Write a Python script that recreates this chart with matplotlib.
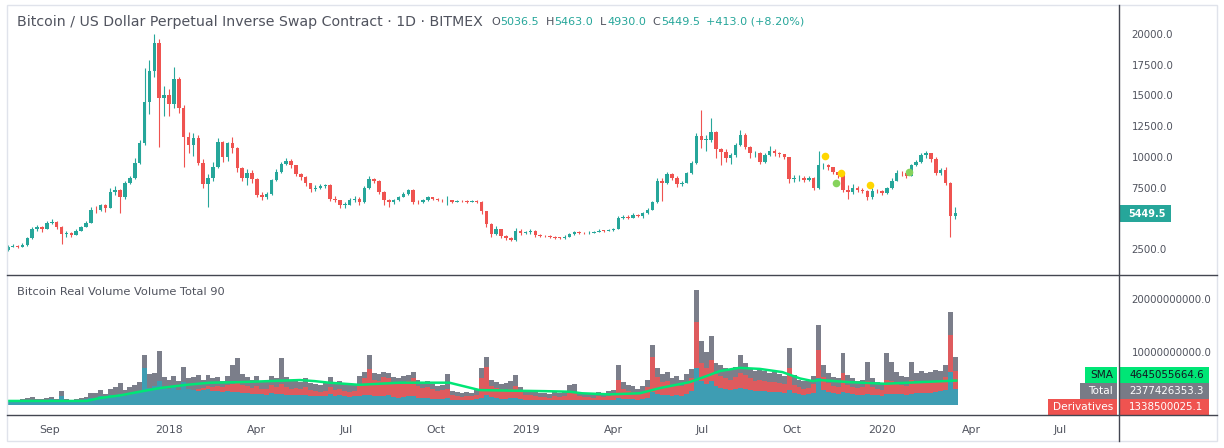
import numpy as np
import pandas as pd
import matplotlib
matplotlib.use('Agg')
import matplotlib.pyplot as plt
import matplotlib.dates as mdates
from matplotlib.lines import Line2D
from matplotlib.patches import Rectangle

W, H = 1224, 448

# XBTUSD, one candle per 5 days starting 2017-07-20 (open of first candle, then close/high/low)
first_open = 2400
close = [
    2700, 2750, 2700, 2800, 3400, 4100, 4300, 4150, 4600, 4700,
    4300, 3700, 3800, 3650, 4000, 4300, 4650, 5700, 5650, 6050,
    5850, 7100, 7300, 6700, 7900, 8250, 9500, 11100, 14500, 17000,
    19300, 14800, 15000, 14300, 16300, 14000, 11600, 11000, 11500, 9500,
    7800, 8300, 9200, 11200, 10000, 11100, 10700, 9100, 8300, 8700,
    8200, 6900, 6750, 6950, 8100, 8800, 9400, 9650, 9300, 8600,
    8350, 7850, 7350, 7500, 7600, 7700, 6550, 6450, 6100, 6100,
    6500, 6600, 6300, 7450, 8200, 8050, 7150, 6450, 6350, 6450,
    6750, 7000, 7300, 6350, 6300, 6450, 6700, 6550, 6500, 6480,
    6500, 6330, 6400, 6380, 6330, 6400, 6350, 5550, 4550, 3700,
    4100, 3550, 3400, 3200, 4000, 3800, 3850, 4000, 3600, 3580,
    3550, 3480, 3420, 3400, 3500, 3700, 3880, 3820, 3800, 3830,
    3880, 4000, 3980, 4050, 4130, 5050, 5100, 5060, 5250, 5200,
    5400, 5700, 6300, 8000, 7850, 8600, 8300, 7750, 7900, 8650,
    9500, 11700, 11400, 11400, 12000, 10600, 10400, 9900, 10150, 10950,
    11800, 10800, 10300, 10350, 9600, 10150, 10500, 10300, 10200, 9950,
    8200, 8250, 8300, 8150, 8300, 7450, 9300, 9300, 9150, 8750,
    8500, 7300, 7150, 7500, 7300, 7250, 6700, 7250, 7200, 7050,
    7450, 8050, 8700, 8650, 8400, 9300, 9600, 10150, 10300, 9800,
    8700, 8900, 7900, 5200, 5450,
]
high = [
    2800, 2900, 2850, 2950, 3500, 4300, 4450, 4400, 4750, 4950,
    4800, 4400, 3950, 3900, 4150, 4400, 4800, 5900, 6000, 6200,
    6150, 7500, 7600, 7350, 8050, 8400, 9900, 11400, 17200, 17900,
    20000, 19600, 15800, 15500, 17300, 16500, 14200, 12000, 11900, 11800,
    9800, 8600, 9600, 11500, 11300, 11200, 11600, 10800, 9200, 9000,
    8900, 8300, 7100, 7100, 8200, 9000, 9600, 9900, 9800, 9350,
    8700, 8400, 7900, 7700, 7800, 7800, 7750, 6800, 6500, 6300,
    6650, 6800, 6700, 7600, 8450, 8300, 8100, 7200, 6550, 6600,
    6850, 7100, 7400, 7350, 6500, 6550, 6800, 6750, 6650, 6600,
    6800, 6500, 6500, 6450, 6450, 6500, 6450, 6400, 5600, 4600,
    4350, 4150, 3650, 3450, 4200, 4100, 3950, 4100, 4050, 3700,
    3650, 3600, 3550, 3500, 3600, 3800, 4000, 3950, 3900, 3950,
    3950, 4100, 4080, 4100, 4200, 5200, 5300, 5250, 5400, 5350,
    5500, 5850, 6400, 8300, 8300, 8750, 8700, 8400, 8050, 8800,
    9700, 11900, 13800, 11800, 13200, 12100, 10700, 10600, 10300, 11100,
    12200, 11900, 10900, 10500, 10400, 10300, 10900, 10600, 10400, 10250,
    10000, 8500, 8500, 8400, 8450, 8350, 10500, 9500, 9400, 9150,
    8800, 8550, 7700, 7800, 7600, 7450, 7300, 7450, 7400, 7300,
    7550, 8300, 8900, 8850, 8700, 9400, 9750, 10300, 10500, 10350,
    9950, 9100, 9200, 7950, 5900,
]
low = [
    2350, 2650, 2600, 2650, 2780, 3350, 4000, 3900, 4100, 4500,
    4150, 2900, 3500, 3500, 3600, 3950, 4250, 4600, 5450, 5600,
    5500, 5800, 6900, 5450, 6600, 7800, 8200, 9400, 11000, 13500,
    16500, 10800, 13300, 13300, 14000, 13600, 9200, 10300, 10100, 9300,
    7500, 5900, 8000, 9100, 9600, 9700, 10300, 8800, 8000, 7700,
    7900, 6700, 6500, 6600, 6900, 8000, 8700, 9300, 9100, 8400,
    8100, 7600, 7150, 7250, 7400, 7500, 6400, 6300, 5850, 5800,
    6050, 6350, 6100, 6250, 7400, 7850, 6950, 6100, 5950, 6200,
    6400, 6700, 6900, 6200, 6150, 6250, 6400, 6450, 6400, 6350,
    6100, 6250, 6300, 6300, 6250, 6300, 6250, 5350, 4300, 3450,
    3600, 3400, 3250, 3120, 3150, 3650, 3700, 3750, 3500, 3500,
    3450, 3400, 3350, 3350, 3350, 3450, 3650, 3700, 3720, 3750,
    3800, 3850, 3900, 3950, 4000, 4100, 4950, 4950, 5050, 5100,
    5050, 5350, 5650, 6250, 6400, 7800, 8100, 7550, 7600, 7850,
    8600, 9400, 10700, 10500, 11200, 9900, 9300, 9600, 9400, 10000,
    10900, 10600, 9900, 10000, 9400, 9500, 10100, 10100, 9950, 9800,
    7900, 7950, 8050, 7950, 8050, 7300, 7400, 9050, 8950, 8600,
    8300, 7100, 6550, 7000, 7100, 7050, 6500, 6600, 7050, 6900,
    7000, 7400, 8000, 8400, 8250, 8400, 9250, 9500, 9900, 9600,
    8500, 8500, 7700, 3500, 4950,
]

# volume per 5-day bucket, in billions USD
vol_total = [
    0.9, 1.0, 0.8, 1.1, 1.3, 1.5, 1.1, 1.2, 1.4, 1.5, 1.2, 2.6, 1.2, 1.0, 1.2, 1.3, 1.5, 2.2,
    2.3, 2.8, 2.0, 3.0, 3.4, 4.1, 2.9, 3.3, 3.8, 4.3,
    9.4, 5.8, 6.0, 10.2, 5.2, 4.8, 5.5, 4.5, 7.2, 5.0,
    5.2, 5.6, 4.8, 5.7, 5.0, 5.3, 4.6, 5.4, 7.5, 8.9,
    5.8, 5.2, 4.8, 5.5, 4.6, 4.4, 5.4, 5.0, 8.9, 5.2, 4.5, 4.8, 4.4, 5.0, 4.2, 4.0, 3.8, 4.1, 5.2, 4.3, 4.6, 4.2, 3.9, 4.0,
    5.4, 6.2, 9.4, 6.0, 5.8, 6.2, 6.0, 5.2, 5.0, 5.5, 5.7, 6.2, 4.8, 4.2, 4.5, 3.9, 3.6, 3.8, 5.8, 2.6, 2.4, 2.2, 2.5, 2.3, 2.8,
    7.0, 9.0, 4.8, 4.4, 4.0, 4.2, 4.5, 5.7, 3.4,
    2.6, 2.8, 2.5, 2.2, 2.3, 2.1, 2.4, 2.2, 2.5, 3.8, 4.0, 2.4, 2.2, 2.3, 2.1, 2.4, 2.3, 2.6, 2.8,
    7.5, 4.4, 3.8, 3.5, 3.0, 3.6, 4.8, 11.3, 7.0, 5.8, 6.2, 5.0, 5.4, 4.8, 5.8, 6.8,
    21.7, 12.0, 10.0, 13.0, 8.0, 7.5, 7.0, 6.8, 7.2, 9.4, 8.0, 7.0, 6.5, 6.8, 6.4, 6.0, 6.2, 5.8, 5.5,
    10.7, 5.6, 4.8, 4.5, 4.7, 5.5, 15.0, 7.5, 6.0, 5.2, 5.0, 9.8, 5.6, 5.0, 4.6, 4.8,
    8.1, 5.0, 4.4, 4.2, 9.8, 8.1, 6.2, 5.4, 5.2, 8.1, 6.0, 6.4, 6.0, 6.2, 6.6, 6.5, 7.5, 17.5, 9.0,
]
vol_deriv = [
    0.2, 0.2, 0.2, 0.3, 0.3, 0.3, 0.2, 0.3, 0.3, 0.3, 0.3, 0.5, 0.3, 0.2, 0.3, 0.3, 0.3, 0.4,
    0.6, 0.7, 0.6, 0.8, 0.9, 1.0, 0.8, 0.9, 1.1, 1.2,
    2.0, 1.6, 1.8, 2.0, 2.0, 2.2, 2.5, 2.3, 2.8, 2.6,
    2.8, 3.0, 3.2, 3.6, 3.3, 3.5, 3.4, 3.8, 4.0, 4.2,
    3.8, 3.5, 3.2, 3.6, 3.0, 3.1, 3.7, 3.4, 3.9, 3.4, 3.0, 3.2, 3.0, 3.3, 2.8, 2.6, 2.5, 2.6, 3.4, 2.8, 3.0, 2.7, 2.5, 2.6,
    4.0, 5.0, 6.8, 4.8, 4.6, 5.2, 5.0, 4.2, 4.0, 4.4, 4.5, 5.0, 3.6, 3.2, 3.4, 3.0, 2.6, 2.8, 3.0, 1.8, 1.6, 1.5, 1.7, 1.6, 1.9,
    5.0, 7.2, 3.6, 3.2, 3.0, 2.8, 3.0, 3.5, 2.4,
    1.8, 1.9, 1.7, 1.5, 1.5, 1.4, 1.6, 1.5, 1.7, 2.2, 2.3, 1.6, 1.5, 1.5, 1.4, 1.6, 1.5, 1.7, 1.8,
    4.8, 3.0, 2.6, 2.5, 2.1, 2.5, 3.4, 9.0, 5.2, 4.4, 4.6, 3.8, 4.0, 3.6, 4.3, 5.0,
    15.7, 8.0, 7.0, 8.5, 5.8, 5.5, 5.0, 4.8, 5.2, 6.0, 5.6, 5.0, 4.6, 4.8, 4.5, 4.3, 4.4, 4.1, 3.9,
    7.0, 3.8, 3.3, 3.1, 3.2, 4.0, 10.4, 5.2, 4.2, 3.6, 3.4, 6.0, 3.8, 3.4, 3.2, 3.3,
    4.5, 3.4, 3.0, 2.9, 4.8, 4.6, 4.2, 3.8, 3.6, 4.8, 4.2, 4.4, 4.1, 4.3, 4.6, 4.5, 5.2, 13.2, 6.5,
]
vol_spot = [
    0.6, 0.7, 0.6, 0.8, 0.9, 1.0, 0.8, 0.9, 1.0, 1.1, 0.9, 1.6, 0.9, 0.8, 0.9, 1.0, 1.1, 1.4,
    1.4, 1.6, 1.3, 1.8, 1.7, 2.0, 1.6, 1.8, 2.2, 2.4,
    7.0, 3.2, 3.5, 4.5, 3.2, 3.0, 3.3, 2.8, 4.3, 3.0,
    2.8, 2.6, 2.9, 3.0, 2.6, 2.7, 2.5, 2.6, 2.4, 2.5,
    2.3, 2.2, 2.0, 2.1, 2.0, 1.9, 2.2, 2.0, 2.1, 1.9, 1.8, 1.9, 1.8, 1.9, 1.7, 1.6, 1.6, 1.7, 2.0, 1.7, 1.8, 1.6, 1.5, 1.6,
    1.6, 1.9, 1.8, 1.7, 1.6, 1.7, 1.8, 1.5, 1.4, 1.5, 1.6, 1.7, 1.4, 1.3, 1.3, 1.2, 1.2, 1.2, 1.3, 1.0, 1.0, 0.9, 1.0, 1.0, 1.1,
    1.4, 1.8, 1.5, 1.3, 1.2, 1.2, 1.3, 1.3, 1.1,
    1.0, 1.0, 1.0, 0.9, 0.9, 0.9, 0.9, 0.9, 1.0, 1.0, 1.0, 0.9, 0.9, 0.9, 0.9, 0.9, 0.9, 0.9, 1.0,
    1.3, 1.2, 1.1, 1.1, 1.0, 1.1, 1.4, 2.5, 2.0, 1.8, 1.9, 1.7, 1.8, 1.7, 2.0, 2.6,
    7.0, 4.5, 4.0, 4.5, 3.5, 3.2, 3.0, 2.9, 3.0, 3.2, 3.0, 2.8, 2.6, 2.7, 2.6, 2.5, 2.5, 2.4, 2.3,
    2.8, 2.2, 2.0, 1.9, 2.0, 2.2, 5.0, 2.8, 2.5, 2.2, 2.1, 2.4, 2.2, 2.0, 1.9, 1.8,
    2.0, 1.9, 1.8, 1.7, 2.0, 2.0, 2.1, 2.0, 1.9, 2.1, 2.2, 2.3, 2.2, 2.3, 2.5, 2.6, 2.8, 6.2, 3.0,
]

# 90-day SMA of total volume (billions)
sma_dates = ['2017-07-20', '2017-10-09', '2017-10-22', '2017-11-12', '2017-12-02', '2017-12-23',
             '2018-01-19', '2018-02-12', '2018-03-14', '2018-04-14', '2018-05-15', '2018-05-30',
             '2018-06-14', '2018-07-15', '2018-08-25', '2018-09-15', '2018-10-15', '2018-11-15',
             '2018-12-16', '2019-01-21', '2019-02-15', '2019-02-28', '2019-03-28', '2019-04-28',
             '2019-05-19', '2019-06-18', '2019-07-06', '2019-07-19', '2019-08-08', '2019-08-29',
             '2019-09-21', '2019-10-09', '2019-10-22', '2019-10-29', '2019-11-29', '2020-01-04',
             '2020-02-09', '2020-03-17']
sma_vals = [0.75, 0.75, 1.3, 1.8, 2.5, 3.2,
            3.8, 4.2, 4.3, 4.5, 4.7, 4.5,
            4.2, 3.8, 4.2, 4.2, 4.2, 2.8,
            2.7, 2.6, 2.5, 2.2, 2.0, 2.2,
            3.2, 4.3, 5.5, 6.4, 7.0, 6.8,
            6.2, 5.0, 4.5, 4.7, 4.3, 4.0,
            4.3, 4.6]

# signal dots on the price pane
yellow_dates = ['2019-11-04', '2019-11-20', '2019-12-20']
yellow_price = [10070, 8690, 7710]
green_dates = ['2019-11-15', '2020-01-29']
green_price = [7870, 8770]

# 5000.0 sits under the last-price tag, so it is left out
price_ticks = [2500, 7500, 10000, 12500, 15000, 17500, 20000]
vol_ticks = [1e10, 2e10]
time_ticks = ['2017-09-01', '2018-01-01', '2018-04-01', '2018-07-01', '2018-10-01', '2019-01-01',
              '2019-04-01', '2019-07-01', '2019-10-01', '2020-01-01', '2020-04-01', '2020-07-01']
time_labels = ['Sep', '2018', 'Apr', 'Jul', 'Oct', '2019', 'Apr', 'Jul', 'Oct', '2020', 'Apr', 'Jul']

UP, DN = '#26a69a', '#ef5350'
TXT = '#50535e'
LINE = '#434651'
BORDER = '#e0e3eb'

plt.rcParams['font.family'] = ['DejaVu Sans']


def fx(px):
    return px / W


def fy(py):
    return 1 - py / H


fig = plt.figure(figsize=(W / 100, H / 100), dpi=100)
L, R = 8, 1119
ax = fig.add_axes([fx(L), fy(275), fx(R - L), (275 - 6) / H])
axv = fig.add_axes([fx(L), fy(415), fx(R - L), (415 - 276) / H], sharex=ax)

# --- candles
t = mdates.date2num(pd.date_range('2017-07-20', periods=len(close), freq='5D'))
c = np.array(close, float)
o = np.r_[first_open, c[:-1]]
col = np.where(c >= o, UP, DN)
ax.vlines(t, low, high, colors=col, lw=0.8)
body = np.maximum(np.abs(c - o), 40)
ax.bar(t, body, bottom=np.minimum(o, c), width=3.6, color=col, linewidth=0)

ax.scatter(mdates.date2num(pd.to_datetime(yellow_dates)), yellow_price, s=30, color='#ffd600', zorder=5, linewidths=0)
ax.scatter(mdates.date2num(pd.to_datetime(green_dates)), green_price, s=30, color='#86d35c', zorder=5, linewidths=0)

x0 = mdates.date2num(pd.Timestamp('2018-01-01'))
ax.set_xlim(x0 - 164.8, x0 + 972.6)
ax.set_ylim(380, 22280)

# --- volume
axv.bar(t, np.array(vol_total) * 1e9, width=5, color='#7b7e8a', linewidth=0)
axv.bar(t, np.array(vol_deriv) * 1e9, width=5, color='#de5b5e', linewidth=0)
axv.bar(t, np.array(vol_spot) * 1e9, width=5, color='#3e9db3', linewidth=0)
axv.plot(mdates.date2num(pd.to_datetime(sma_dates)), np.array(sma_vals) * 1e9, color='#00e676', lw=1.8)
axv.set_ylim(-0.19e10, 2.434e10)

for a in (ax, axv):
    for s in a.spines.values():
        s.set_visible(False)
    a.yaxis.tick_right()
    a.tick_params(axis='y', length=0, pad=9, labelsize=7.4, labelcolor=TXT)

ax.set_yticks(price_ticks)
ax.set_yticklabels([f'{v:.1f}' for v in price_ticks])
ax.tick_params(axis='x', length=0, labelbottom=False)
axv.set_yticks(vol_ticks)
axv.set_yticklabels([f'{v:.1f}' for v in vol_ticks])
axv.set_xticks(mdates.date2num(pd.to_datetime(time_ticks)))
axv.set_xticklabels(time_labels)
axv.tick_params(axis='x', length=0, pad=7, labelsize=7.8, labelcolor=TXT)

# --- frame lines
fig.add_artist(Rectangle((fx(7), fy(441)), fx(1210), (441 - 5) / H, fill=False, ec=BORDER, lw=1))
fig.add_artist(Line2D([fx(1119), fx(1119)], [fy(5), fy(441)], color=LINE, lw=1))
fig.add_artist(Line2D([fx(7), fx(1217)], [fy(275), fy(275)], color=LINE, lw=1))
fig.add_artist(Line2D([fx(7), fx(1217)], [fy(415), fy(415)], color=LINE, lw=1))

# --- titles
fig.text(fx(17), fy(22), 'Bitcoin / US Dollar Perpetual Inverse Swap Contract \u00b7 1D \u00b7 BITMEX',
         fontsize=10.2, color=TXT, va='center')
for xp, s, cl in [(491, 'O', TXT), (500, '5036.5', UP), (546, 'H', TXT), (554, '5463.0', UP),
                  (600, 'L', TXT), (607, '4930.0', UP), (652, 'C', TXT), (661, '5449.5', UP),
                  (706, '+413.0 (+8.20%)', UP)]:
    fig.text(fx(xp), fy(22), s, fontsize=8, color=cl, va='center')
fig.text(fx(17), fy(292), 'Bitcoin Real Volume Volume Total 90', fontsize=8.2, color=TXT, va='center')

# --- last price tag
fig.add_artist(Rectangle((fx(1119), fy(222)), fx(52), 17 / H, color=UP, lw=0))
fig.text(fx(1128), fy(213.5), '5449.5', fontsize=7, color='white', weight='bold', va='center')

# --- volume legend tags
tags = [('SMA', '4645055664.6', '#00e676', '#131722', 1085, 367),
        ('Total', '2377426353.3', '#787b86', 'white', 1080, 383),
        ('Derivatives', '1338500025.1', '#ef5350', 'white', 1048, 399)]
for name, val, bg, fg, xl, yt in tags:
    fig.add_artist(Rectangle((fx(xl), fy(yt + 16)), fx(1117 - xl), 16 / H, color=bg, lw=0))
    fig.add_artist(Rectangle((fx(1120), fy(yt + 16)), fx(89), 16 / H, color=bg, lw=0))
    fig.text(fx(1113), fy(yt + 8), name, fontsize=7.6, color=fg, ha='right', va='center')
    fig.text(fx(1129), fy(yt + 8), val, fontsize=7.4, color=fg, ha='left', va='center')

fig.savefig('out.png', dpi=100, facecolor='white')
